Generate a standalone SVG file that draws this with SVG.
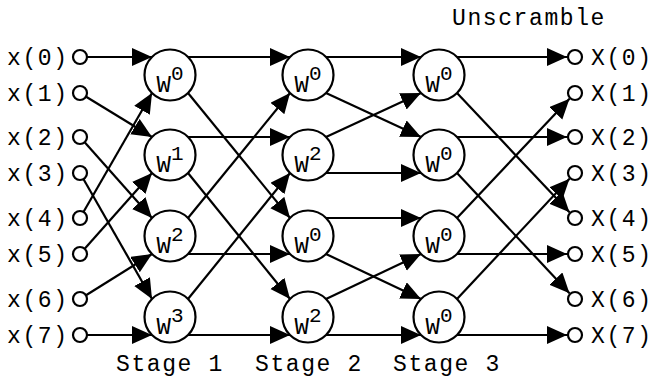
<svg xmlns="http://www.w3.org/2000/svg" width="652" height="377" viewBox="0 0 652 377">
  <style>
    .wire { stroke: #000; stroke-width: 2.2; fill: none; marker-end: url(#ah); }
    .node { fill: #fff; stroke: #000; stroke-width: 2.2; }
    .term { fill: #fff; stroke: #000; stroke-width: 2.2; }
    text { font-family: "Liberation Mono", "Courier New", monospace; fill: #000; }
    .lbl { font-size: 23px; letter-spacing: 1.6px; }
    .wl { font-size: 24px; text-anchor: middle; }
    .sup { font-size: 21px; }
  </style>
  <defs>
    <marker id="ah" markerUnits="userSpaceOnUse" markerWidth="21" markerHeight="19" viewBox="0 0 21 19" refX="20" refY="9" orient="auto">
      <path d="M0,0 L20,9 L0,18 z" fill="#000"/>
    </marker>
  </defs>

  <!-- connectors: inputs -> stage 1 -> stage 2 -> stage 3 -> outputs -->
  <g id="connectors">
    <line class="wire" x1="80" y1="57" x2="152" y2="57"/>
    <line class="wire" x1="80" y1="93" x2="152" y2="137"/>
    <line class="wire" x1="80" y1="137" x2="152" y2="218"/>
    <line class="wire" x1="80" y1="173" x2="152" y2="299"/>
    <line class="wire" x1="80" y1="218" x2="152" y2="93"/>
    <line class="wire" x1="80" y1="254" x2="152" y2="173"/>
    <line class="wire" x1="80" y1="299" x2="152" y2="254"/>
    <line class="wire" x1="80" y1="335" x2="152" y2="335"/>

    <line class="wire" x1="188" y1="57" x2="290" y2="57"/>
    <line class="wire" x1="188" y1="93" x2="290" y2="218"/>
    <line class="wire" x1="188" y1="137" x2="290" y2="137"/>
    <line class="wire" x1="188" y1="173" x2="290" y2="299"/>
    <line class="wire" x1="188" y1="218" x2="290" y2="93"/>
    <line class="wire" x1="188" y1="254" x2="290" y2="254"/>
    <line class="wire" x1="188" y1="299" x2="290" y2="173"/>
    <line class="wire" x1="188" y1="335" x2="290" y2="335"/>

    <line class="wire" x1="326" y1="57" x2="421" y2="57"/>
    <line class="wire" x1="326" y1="93" x2="421" y2="137"/>
    <line class="wire" x1="326" y1="137" x2="421" y2="93"/>
    <line class="wire" x1="326" y1="173" x2="421" y2="173"/>
    <line class="wire" x1="326" y1="218" x2="421" y2="218"/>
    <line class="wire" x1="326" y1="254" x2="421" y2="299"/>
    <line class="wire" x1="326" y1="299" x2="421" y2="254"/>
    <line class="wire" x1="326" y1="335" x2="421" y2="335"/>

    <line class="wire" x1="457" y1="57" x2="567" y2="57"/>
    <line class="wire" x1="457" y1="93" x2="569.5" y2="212.2"/>
    <line class="wire" x1="457" y1="137" x2="567" y2="137"/>
    <line class="wire" x1="457" y1="173" x2="569.5" y2="293.2"/>
    <line class="wire" x1="457" y1="218" x2="569.5" y2="98.8"/>
    <line class="wire" x1="457" y1="254" x2="567" y2="254"/>
    <line class="wire" x1="457" y1="299" x2="569.5" y2="178.8"/>
    <line class="wire" x1="457" y1="335" x2="567" y2="335"/>
  </g>

  <!-- input terminals -->
  <g id="in0"><circle class="term" cx="80" cy="57" r="7"/><text class="lbl" x="7" y="65">x(0)</text></g>
  <g id="in1"><circle class="term" cx="80" cy="93" r="7"/><text class="lbl" x="7" y="101">x(1)</text></g>
  <g id="in2"><circle class="term" cx="80" cy="137" r="7"/><text class="lbl" x="7" y="145">x(2)</text></g>
  <g id="in3"><circle class="term" cx="80" cy="173" r="7"/><text class="lbl" x="7" y="181">x(3)</text></g>
  <g id="in4"><circle class="term" cx="80" cy="218" r="7"/><text class="lbl" x="7" y="226">x(4)</text></g>
  <g id="in5"><circle class="term" cx="80" cy="254" r="7"/><text class="lbl" x="7" y="262">x(5)</text></g>
  <g id="in6"><circle class="term" cx="80" cy="299" r="7"/><text class="lbl" x="7" y="307">x(6)</text></g>
  <g id="in7"><circle class="term" cx="80" cy="335" r="7"/><text class="lbl" x="7" y="343">x(7)</text></g>

  <!-- stage 1 butterflies -->
  <g id="s1n0"><circle class="node" cx="170" cy="75" r="25.5"/><text class="wl" x="170" y="92">W<tspan class="sup" dy="-12">0</tspan></text></g>
  <g id="s1n1"><circle class="node" cx="170" cy="155" r="25.5"/><text class="wl" x="170" y="172">W<tspan class="sup" dy="-12">1</tspan></text></g>
  <g id="s1n2"><circle class="node" cx="170" cy="236" r="25.5"/><text class="wl" x="170" y="253">W<tspan class="sup" dy="-12">2</tspan></text></g>
  <g id="s1n3"><circle class="node" cx="170" cy="317" r="25.5"/><text class="wl" x="170" y="334">W<tspan class="sup" dy="-12">3</tspan></text></g>

  <!-- stage 2 butterflies -->
  <g id="s2n0"><circle class="node" cx="308" cy="75" r="25.5"/><text class="wl" x="308" y="92">W<tspan class="sup" dy="-12">0</tspan></text></g>
  <g id="s2n1"><circle class="node" cx="308" cy="155" r="25.5"/><text class="wl" x="308" y="172">W<tspan class="sup" dy="-12">2</tspan></text></g>
  <g id="s2n2"><circle class="node" cx="308" cy="236" r="25.5"/><text class="wl" x="308" y="253">W<tspan class="sup" dy="-12">0</tspan></text></g>
  <g id="s2n3"><circle class="node" cx="308" cy="317" r="25.5"/><text class="wl" x="308" y="334">W<tspan class="sup" dy="-12">2</tspan></text></g>

  <!-- stage 3 butterflies -->
  <g id="s3n0"><circle class="node" cx="439" cy="75" r="25.5"/><text class="wl" x="439" y="92">W<tspan class="sup" dy="-12">0</tspan></text></g>
  <g id="s3n1"><circle class="node" cx="439" cy="155" r="25.5"/><text class="wl" x="439" y="172">W<tspan class="sup" dy="-12">0</tspan></text></g>
  <g id="s3n2"><circle class="node" cx="439" cy="236" r="25.5"/><text class="wl" x="439" y="253">W<tspan class="sup" dy="-12">0</tspan></text></g>
  <g id="s3n3"><circle class="node" cx="439" cy="317" r="25.5"/><text class="wl" x="439" y="334">W<tspan class="sup" dy="-12">0</tspan></text></g>

  <!-- output terminals (bit-reversed order restored) -->
  <g id="out0"><circle class="term" cx="575" cy="57" r="7"/><text class="lbl" x="591" y="65">X(0)</text></g>
  <g id="out1"><circle class="term" cx="575" cy="93" r="7"/><text class="lbl" x="591" y="101">X(1)</text></g>
  <g id="out2"><circle class="term" cx="575" cy="137" r="7"/><text class="lbl" x="591" y="145">X(2)</text></g>
  <g id="out3"><circle class="term" cx="575" cy="173" r="7"/><text class="lbl" x="591" y="181">X(3)</text></g>
  <g id="out4"><circle class="term" cx="575" cy="218" r="7"/><text class="lbl" x="591" y="226">X(4)</text></g>
  <g id="out5"><circle class="term" cx="575" cy="254" r="7"/><text class="lbl" x="591" y="262">X(5)</text></g>
  <g id="out6"><circle class="term" cx="575" cy="299" r="7"/><text class="lbl" x="591" y="307">X(6)</text></g>
  <g id="out7"><circle class="term" cx="575" cy="335" r="7"/><text class="lbl" x="591" y="343">X(7)</text></g>

  <!-- captions -->
  <g id="captions">
    <text class="lbl" x="452" y="25">Unscramble</text>
    <text class="lbl" x="116" y="371">Stage 1</text>
    <text class="lbl" x="255" y="371">Stage 2</text>
    <text class="lbl" x="393" y="371">Stage 3</text>
  </g>
</svg>
